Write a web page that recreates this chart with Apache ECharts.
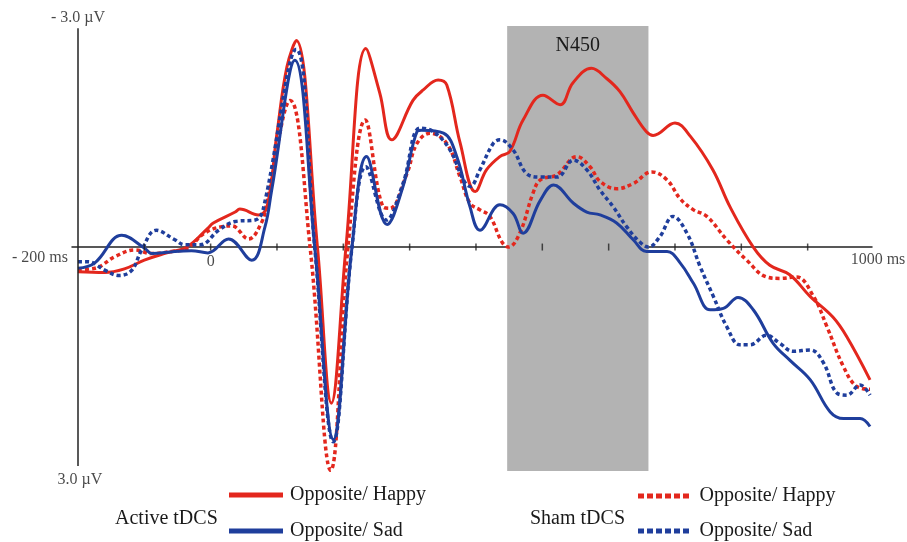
<!DOCTYPE html>
<html><head><meta charset="utf-8">
<script src="https://cdn.jsdelivr.net/npm/echarts@6/dist/echarts.min.js"></script>
<style>html,body{margin:0;padding:0;background:#fff}#c{width:907px;height:542px}</style>
</head><body><div id="c"></div>
<script>
// ---- data (ms, µV; negative plotted upward) ----
const activeHappyT = [-200,-160,-130,-100,-66,-36,-4,4,37,44,72,85,100,115,129,161,182,204,234,255,273,305,320,343,356,376,399,416,436,451,471,501,527,546,574,597,617,637,657,667,700,723,757,783,818,843,873,904,938,959,994];
const activeHappyV = [0.34,0.35,0.30,0.18,0.08,0.0,-0.26,-0.33,-0.48,-0.52,-0.44,-0.55,-1.56,-2.47,-2.83,0.0,2.14,0.0,-2.72,-2.11,-1.47,-2.01,-2.15,-2.29,-2.22,-1.43,-0.76,-1.06,-1.24,-1.31,-1.74,-2.08,-1.95,-2.25,-2.45,-2.31,-2.13,-1.84,-1.58,-1.53,-1.70,-1.52,-1.06,-0.55,0.0,0.25,0.38,0.68,0.96,1.23,1.82];

const activeSadT = [-200,-175,-134,-99,-89,-54,-29,-4,27,62,82,92,127,157,185,213,235,266,290,311,318,351,371,391,406,436,456,471,497,517,547,567,587,612,637,657,688,708,728,753,773,795,818,848,873,904,934,954,979,994];
const activeSadV = [0.29,0.22,-0.16,0.02,0.09,0.06,0.05,0.08,-0.11,0.18,-0.28,-0.78,-2.56,0.01,2.64,0.01,-1.24,-0.31,-0.83,-1.58,-1.60,-1.56,-1.24,-0.55,-0.23,-0.58,-0.46,-0.19,-0.64,-0.85,-0.60,-0.48,-0.44,-0.33,-0.10,0.06,0.06,0.22,0.50,0.86,0.84,0.69,0.86,1.32,1.55,1.82,2.26,2.35,2.35,2.46];

const shamHappyT = [-200,-174,-144,-114,-89,-59,-36,-9,17,32,57,77,84,120,150,181,207,233,260,270,296,311,331,356,376,391,406,421,439,449,466,486,497,522,552,572,587,612,637,665,688,708,728,748,778,808,838,858,883,909,929,954,974,994];
const shamHappyV = [0.31,0.29,0.13,0.04,0.09,0.06,0.02,-0.19,-0.28,-0.29,-0.11,-0.34,-0.58,-2.01,0.01,3.06,0.01,-1.74,-0.55,-0.53,-1.01,-1.42,-1.56,-1.42,-0.96,-0.60,-0.51,-0.42,-0.07,0.0,-0.19,-0.74,-0.92,-0.99,-1.24,-1.10,-0.90,-0.80,-0.87,-1.03,-0.92,-0.66,-0.51,-0.42,-0.10,0.18,0.41,0.43,0.41,0.68,1.09,1.64,1.91,1.95];

const shamSadT = [-200,-185,-159,-138,-119,-104,-82,-54,-39,-16,12,37,67,79,129,157,185,213,234,265,290,316,336,361,381,391,406,426,436,456,476,497,522,547,567,587,607,627,647,660,677,697,718,738,758,778,798,813,838,858,878,904,924,944,959,979,994];
const shamSadV = [0.20,0.20,0.32,0.39,0.32,0.04,-0.23,-0.10,-0.03,-0.03,-0.23,-0.35,-0.37,-0.51,-2.71,0.01,2.67,0.01,-1.10,-0.37,-0.87,-1.63,-1.58,-1.33,-0.92,-0.83,-1.06,-1.42,-1.47,-1.33,-1.01,-0.96,-0.96,-1.19,-1.06,-0.78,-0.55,-0.28,-0.07,0.0,-0.14,-0.42,-0.19,0.27,0.68,1.09,1.34,1.34,1.21,1.32,1.43,1.41,1.59,2.00,2.03,1.89,2.03];

const tickTimes = [-100,0,100,200,300,400,500,600,700,800,900];
const xLabelTimes = [-200, 0, 1000];
const xLabelTexts = ['- 200 ms', '0', '1000 ms'];
const yLimitValues = [-3, 3];
const yLimitTexts = ['- 3.0 \u00b5V', '3.0 \u00b5V'];
const n450Window = [447, 660];
const groupTitles = ['Active tDCS', 'Sham tDCS'];
const seriesNames = ['Active tDCS: Opposite/ Happy','Active tDCS: Opposite/ Sad','Sham tDCS: Opposite/ Happy','Sham tDCS: Opposite/ Sad'];

// ---- chart ----
const RED = '#e3271d', BLUE = '#1f3e9c', INK = '#1a1a1a';
const FONT = '"Liberation Serif", "Times New Roman", serif';
const pairs = (t, v) => t.map((x, i) => [x, v[i]]);
const SOLID_ICON = 'path://M0,0H54V5H0Z';
const DOT_ICON = 'path://M0,0h6v5h-6z M9,0h6v5h-6z M18,0h6v5h-6z M27,0h6v5h-6z M36,0h6v5h-6z M45,0h6v5h-6z';

function curve(name, t, v, color, dotted) {
  return {
    name, type: 'line', data: pairs(t, v), smooth: 0.4, symbol: 'none', showSymbol: false,
    z: 2, silent: true,
    lineStyle: { color, width: dotted ? 3.5 : 3, type: dotted ? [4, 3] : 'solid', cap: 'butt' },
    itemStyle: { color }
  };
}
function legendItem(name, left, top, dotted) {
  return {
    left, top, padding: 0, itemWidth: 54, itemHeight: 5, itemGap: 0, selectedMode: false,
    icon: dotted ? DOT_ICON : SOLID_ICON,
    data: [name], formatter: n => n.split(': ')[1],
    textStyle: { fontFamily: FONT, fontSize: 20, color: INK, lineHeight: 20, padding: [0, 0, 0, dotted ? 4 : 2] }
  };
}

const chart = echarts.init(document.getElementById('c'));
chart.setOption({
  animation: false,
  grid: { left: 72, right: 35, top: 26, bottom: 71 },
  xAxis: {
    type: 'value', min: -209, max: 997,
    axisLine: { onZero: true, lineStyle: { color: '#222', width: 1.5 } },
    axisTick: { show: false }, axisLabel: { show: false }, splitLine: { show: false }
  },
  yAxis: {
    type: 'value', inverse: true, min: -3.03, max: 3.07,
    axisLine: { show: false }, axisTick: { show: false }, axisLabel: { show: false }, splitLine: { show: false }
  },
  legend: [
    legendItem(seriesNames[0], 229, 485, false),
    legendItem(seriesNames[1], 229, 521, false),
    legendItem(seriesNames[2], 638, 486, true),
    legendItem(seriesNames[3], 638, 521, true)
  ],
  graphic: [
    { type: 'text', style: { text: groupTitles[0], x: 115, y: 519, verticalAlign: 'middle', fill: INK, font: '20px ' + FONT } },
    { type: 'text', style: { text: groupTitles[1], x: 530, y: 519, verticalAlign: 'middle', fill: INK, font: '20px ' + FONT } }
  ],
  series: [
    {
      type: 'scatter', data: [[n450Window[0], 0]], symbolSize: 0, z: 1, silent: true,
      markArea: {
        silent: true, itemStyle: { color: '#b3b3b3', opacity: 1 },
        label: { show: true, position: 'insideTop', distance: 10, formatter: 'N450', fontFamily: FONT, fontSize: 20, color: INK },
        data: [[{ xAxis: n450Window[0] }, { xAxis: n450Window[1] }]]
      }
    },
    curve(seriesNames[0], activeHappyT, activeHappyV, RED, false),
    curve(seriesNames[2], shamHappyT, shamHappyV, RED, true),
    curve(seriesNames[3], shamSadT, shamSadV, BLUE, true),
    curve(seriesNames[1], activeSadT, activeSadV, BLUE, false),
    {
      type: 'scatter', z: 3, silent: true, clip: false,
      data: tickTimes.map(t => [t, 0]), symbol: 'rect', symbolSize: [1.5, 7],
      itemStyle: { color: '#222' },
      markLine: {
        silent: true, symbol: ['none', 'none'], label: { show: false },
        lineStyle: { color: '#222', width: 1.5, type: 'solid' },
        data: [[{ coord: [xLabelTimes[0], yLimitValues[0]] }, { coord: [xLabelTimes[0], yLimitValues[1]] }]]
      }
    },
    {
      type: 'scatter', z: 3, silent: true, clip: false, symbolSize: 0,
      label: { show: true, formatter: p => p.name, fontFamily: FONT, fontSize: 16, color: INK },
      data: [
        { name: xLabelTexts[0], value: [xLabelTimes[0], 0], label: { position: 'left', distance: 10, offset: [0, 11] } },
        { name: xLabelTexts[1], value: [xLabelTimes[1], 0], label: { position: 'bottom', distance: 7 } },
        { name: xLabelTexts[2], value: [xLabelTimes[2], 0], label: { position: 'bottom', distance: 5, offset: [4, 0] } },
        { name: yLimitTexts[0], value: [xLabelTimes[0], yLimitValues[0]], label: { position: 'top', distance: 2 } },
        { name: yLimitTexts[1], value: [xLabelTimes[0], yLimitValues[1]], label: { position: 'bottom', distance: 6, offset: [2, 0] } }
      ]
    }
  ]
});
</script>
</body></html>
